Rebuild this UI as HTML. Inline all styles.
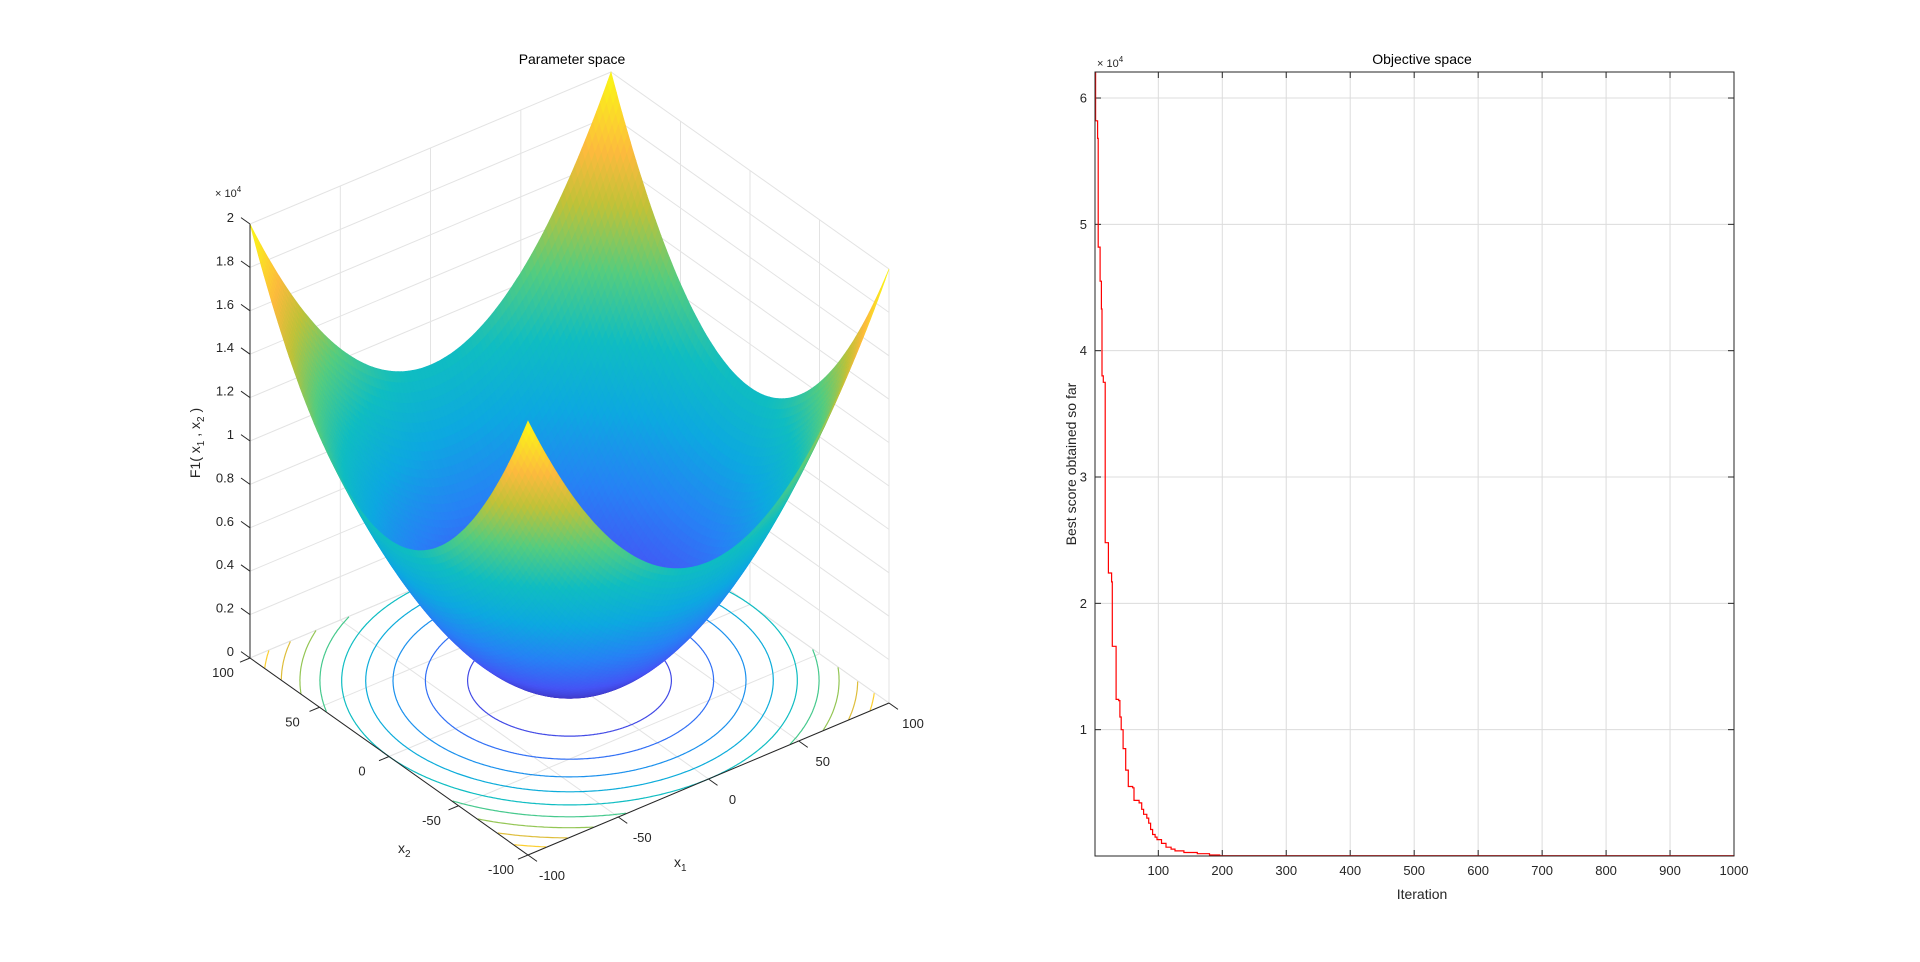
<!DOCTYPE html>
<html><head><meta charset="utf-8"><style>
html,body{margin:0;padding:0;background:#fff;}
svg{display:block;font-family:"Liberation Sans",Arial,sans-serif;}
</style></head><body>
<svg id="s" width="1920" height="962" viewBox="0 0 1920 962" xmlns="http://www.w3.org/2000/svg">
<rect width="1920" height="962" fill="#fff"/>
<g id="grid3d" stroke="#e3e3e3" stroke-width="1" fill="none"></g>
<g id="cont" fill="none" stroke-width="1.2"></g>
<g id="surf"></g>
<g id="ax3d" stroke="#262626" stroke-width="1" fill="none"></g>
<g id="lab3d" fill="#262626" font-size="13"></g>
<text x="572" y="64" font-size="14" text-anchor="middle" fill="#000">Parameter space</text>
<text x="398" y="853" font-size="14" fill="#262626">x<tspan font-size="10" dy="4">2</tspan></text>
<text x="674" y="867" font-size="14" fill="#262626">x<tspan font-size="10" dy="4">1</tspan></text>
<text transform="translate(200,443) rotate(-90)" font-size="14" text-anchor="middle" fill="#262626">F1( x<tspan font-size="10" dy="4">1</tspan><tspan dy="-4"> , x</tspan><tspan font-size="10" dy="4">2</tspan><tspan dy="-4"> )</tspan></text>
<text x="215" y="197" font-size="11" fill="#262626">× 10<tspan font-size="8" dy="-5">4</tspan></text>

<g id="g2" stroke="#dcdcdc" stroke-width="1"></g>
<g id="a2" stroke="#262626" stroke-width="1" fill="none"></g>
<g id="l2" fill="#262626" font-size="13"></g>
<polyline id="curve" fill="none" stroke="#ff0000" stroke-width="1.2"/>
<rect x="1095" y="72" width="639" height="784" fill="none" stroke="#262626" stroke-width="1"/>
<text x="1422" y="64" font-size="14" text-anchor="middle" fill="#000">Objective space</text>
<text x="1422" y="899" font-size="14" text-anchor="middle" fill="#262626">Iteration</text>
<text transform="translate(1076,464) rotate(-90)" font-size="14" text-anchor="middle" fill="#262626">Best score obtained so far</text>
<text x="1097" y="67" font-size="11" fill="#262626">× 10<tspan font-size="8" dy="-5">4</tspan></text>
</svg>
<script>
var NS="http://www.w3.org/2000/svg";
function el(tag,attrs,parent,text){var e=document.createElementNS(NS,tag);for(var k in attrs)e.setAttribute(k,attrs[k]);if(text!==undefined)e.textContent=text;parent.appendChild(e);return e;}
var P=[[0,0.24,0.15,0.66],[0.125,0.27,0.33,0.96],[0.25,0.15,0.51,0.96],[0.375,0.05,0.66,0.88],[0.5,0.06,0.74,0.76],[0.625,0.33,0.80,0.50],[0.75,0.75,0.76,0.22],[0.85,0.99,0.73,0.24],[1,0.98,0.98,0.08]];
function parula(t){t=Math.max(0,Math.min(1,t));for(var i=0;i<P.length-1;i++){if(t<=P[i+1][0]){var f=(t-P[i][0])/(P[i+1][0]-P[i][0]);var c=[];for(var j=1;j<4;j++)c.push(Math.round(255*(P[i][j]+f*(P[i+1][j]-P[i][j]))));return "rgb("+c.join(",")+")";}}return "rgb(249,251,20)";}
function pr(x1,x2,z){var a=(x1+100)/200,b=(x2+100)/200;return [528+a*361-b*278,855-a*152-b*197-z*434/20000];}
function bY(x1,x2){var a=(x1+100)/200,b=(x2+100)/200;return 855-a*152-b*197;}
function pts(a){return a.map(function(p){return p[0].toFixed(1)+","+p[1].toFixed(1)}).join(" ");}
var g=document.getElementById("grid3d");
var tk=[-100,-50,0,50,100];
tk.forEach(function(v){
 el("polyline",{points:pts([pr(v,-100,0),pr(v,100,0),pr(v,100,20000)])},g);
 el("polyline",{points:pts([pr(-100,v,0),pr(100,v,0),pr(100,v,20000)])},g);
});
for(var z=0;z<=20000;z+=2000){el("polyline",{points:pts([pr(-100,100,z),pr(100,100,z),pr(100,-100,z)])},g);}
var cg=document.getElementById("cont");
for(var L=2000;L<=18000;L+=2000){var r=Math.sqrt(L);var seg=[];var col=parula(L/20000);
 for(var i=0;i<=720;i++){var t=i/720*2*Math.PI;var x=r*Math.cos(t),y=r*Math.sin(t);
  if(Math.abs(x)<=100&&Math.abs(y)<=100){seg.push(pr(x,y,0));}else{if(seg.length>1)el("polyline",{points:pts(seg),stroke:col},cg);seg=[];}}
 if(seg.length>1)el("polyline",{points:pts(seg),stroke:col},cg);}
var N=100,h=200/N,q=[];
for(var i=0;i<N;i++)for(var j=0;j<N;j++){var x0=-100+i*h,y0=-100+j*h,x1=x0+h,y1=y0+h;
 var f=function(a,b){return a*a+b*b;};
 var zc=f(x0+h/2,y0+h/2);var zm=(f(x0,y0)+f(x1,y0)+f(x1,y1)+f(x0,y1))/4;
 q.push({d:1.533*bY(x0+h/2,y0+h/2)+0.01415*zc,p:[pr(x0,y0,f(x0,y0)),pr(x1,y0,f(x1,y0)),pr(x1,y1,f(x1,y1)),pr(x0,y1,f(x0,y1))],c:parula(zm/20000)});}
q.sort(function(a,b){return a.d-b.d;});
var sg=document.getElementById("surf");var frag=document.createDocumentFragment();
q.forEach(function(o){var e=document.createElementNS(NS,"polygon");e.setAttribute("points",pts(o.p));e.setAttribute("fill",o.c);e.setAttribute("stroke",o.c);e.setAttribute("stroke-width","0.6");frag.appendChild(e);});
sg.appendChild(frag);
var ax=document.getElementById("ax3d"),lb=document.getElementById("lab3d");
el("polyline",{points:pts([pr(-100,100,20000),pr(-100,100,0),pr(-100,-100,0),pr(100,-100,0)])},ax);
for(var k=0;k<=10;k++){var z=k*2000;var p=pr(-100,100,z);el("line",{x1:p[0],y1:p[1],x2:p[0]-9,y2:p[1]-6.4},ax);
 var s=(k===0?"0":k===10?"2":(k*0.2).toFixed(1).replace(/\.0$/,""));el("text",{x:p[0]-16,y:p[1]-2,"text-anchor":"end"},lb,s);}
tk.forEach(function(v){var p=pr(-100,v,0);el("line",{x1:p[0],y1:p[1],x2:p[0]-10,y2:p[1]+4.2},ax);
 el("text",{x:p[0]-27,y:p[1]+19,"text-anchor":"middle"},lb,String(v));
 var p2=pr(v,-100,0);el("line",{x1:p2[0],y1:p2[1],x2:p2[0]+9,y2:p2[1]+6.4},ax);
 el("text",{x:p2[0]+24,y:p2[1]+25,"text-anchor":"middle"},lb,String(v));});
var g2=document.getElementById("g2"),a2=document.getElementById("a2"),l2=document.getElementById("l2");
function X(it){return 1095+(it-1)*639/999;}function Y(v){return 856-v*126.33/10000;}
for(var v=100;v<=1000;v+=100){var x=X(v);if(v<1000)el("line",{x1:x,y1:72,x2:x,y2:856},g2);
 el("line",{x1:x,y1:856,x2:x,y2:850},a2);el("line",{x1:x,y1:72,x2:x,y2:78},a2);
 el("text",{x:x,y:875,"text-anchor":"middle"},l2,String(v));}
for(var k=1;k<=6;k++){var y=Y(k*10000);el("line",{x1:1095,y1:y,x2:1734,y2:y},g2);
 el("line",{x1:1095,y1:y,x2:1101,y2:y},a2);el("line",{x1:1734,y1:y,x2:1728,y2:y},a2);
 el("text",{x:1087,y:y+4.5,"text-anchor":"end"},l2,String(k));}
var D=[[1,62000],[2,58200],[5,56800],[6,48200],[9,45500],[11,43300],[12,38000],[14,37500],[17,24800],[22,22400],[27,21700],[28,16600],[34,12400],[38,12300],[40,11000],[42,10000],[45,8500],[49,6800],[53,5500],[60,5400],[62,4400],[70,4200],[74,3700],[77,3300],[82,3000],[85,2600],[88,2100],[91,1700],[95,1500],[98,1300],[105,1000],[112,700],[120,550],[126,400],[140,280],[161,180],[180,80],[196,20],[1000,0]];
var cp=[];for(var i=0;i<D.length;i++){if(i>0)cp.push([X(D[i][0]),Y(D[i-1][1])]);cp.push([X(D[i][0]),Y(D[i][1])]);}
document.getElementById("curve").setAttribute("points",pts(cp));
</script>
</body></html>
